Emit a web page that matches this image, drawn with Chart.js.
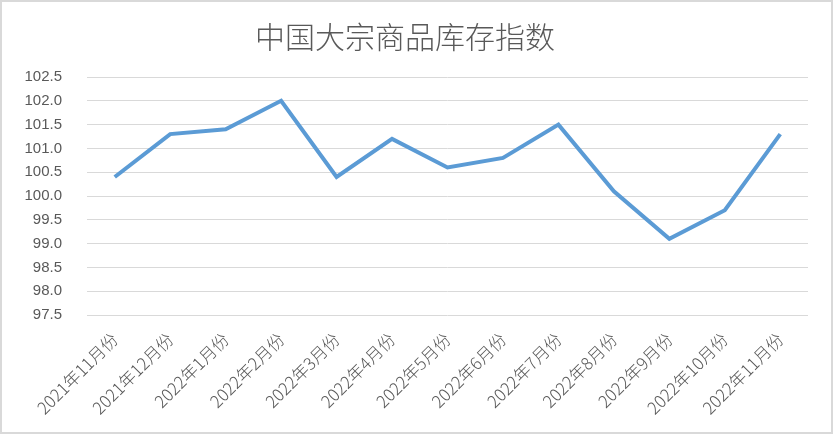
<!DOCTYPE html>
<html>
<head>
<meta charset="utf-8">
<script src="https://cdn.jsdelivr.net/npm/chart.js@4"></script>
<style>
  html, body { margin: 0; padding: 0; background: #fff; }
  #wrap { width: 829px; height: 430px; border: 2px solid #d9d9d9; }
</style>
</head>
<body>
<div id="wrap"><canvas id="grafico1" width="829" height="430"></canvas></div>
<script>
// ==================================== 库存指数 =========================================//

const labels = ["2021年11月份", "2021年12月份", "2022年1月份", "2022年2月份", "2022年3月份", "2022年4月份",
  "2022年5月份", "2022年6月份", "2022年7月份", "2022年8月份", "2022年9月份", "2022年10月份", "2022年11月份"];

const values = [100.4, 101.3, 101.4, 102.0, 100.4, 101.2, 100.6, 100.8, 101.5, 100.1, 99.1, 99.7, 101.3];

const titleText = "中国大宗商品库存指数";

const data = {
  labels: labels,
  datasets: [
    {
      label: "库存指数",
      backgroundColor: "rgb(91, 155, 213)",
      borderColor: "rgb(91, 155, 213)",
      borderWidth: 4,
      pointRadius: 0,
      tension: 0,
      data: values,
    },
  ],
};

const config = {
  type: "line",
  data: data,
  options: {
    responsive: false,
    animation: false,
    layout: { padding: { left: 0, right: 23, top: 0, bottom: 0 } },
    plugins: {
      legend: { display: false },
      tooltip: { enabled: false },
      title: {
        display: true,
        text: titleText,
        color: "#595959",
        font: { size: 30, family: "'Noto Sans CJK SC', sans-serif", weight: 300 },
        padding: { top: 17, bottom: 22 },
      },
    },
    scales: {
      x: {
        offset: true,
        grid: { display: false },
        border: { display: false },
        afterFit: (s) => { s.height = 117; },
        ticks: {
          color: "#595959",
          padding: 6,
          font: { size: 17, family: "'Noto Sans CJK SC', sans-serif", weight: 300 },
          maxRotation: 45,
          minRotation: 45,
          autoSkip: false,
        },
      },
      y: {
        min: 97.5,
        max: 102.5,
        grid: { color: "#d9d9d9", drawTicks: false },
        border: { display: false },
        afterFit: (s) => { s.width = 85; },
        ticks: {
          stepSize: 0.5,
          color: "#595959",
          padding: 25,
          font: { size: 15, family: "'Liberation Sans', sans-serif" },
          callback: (v) => v.toFixed(1),
        },
      },
    },
  },
};

const grafico1 = new Chart(document.getElementById("grafico1"), config);
</script>
</body>
</html>
